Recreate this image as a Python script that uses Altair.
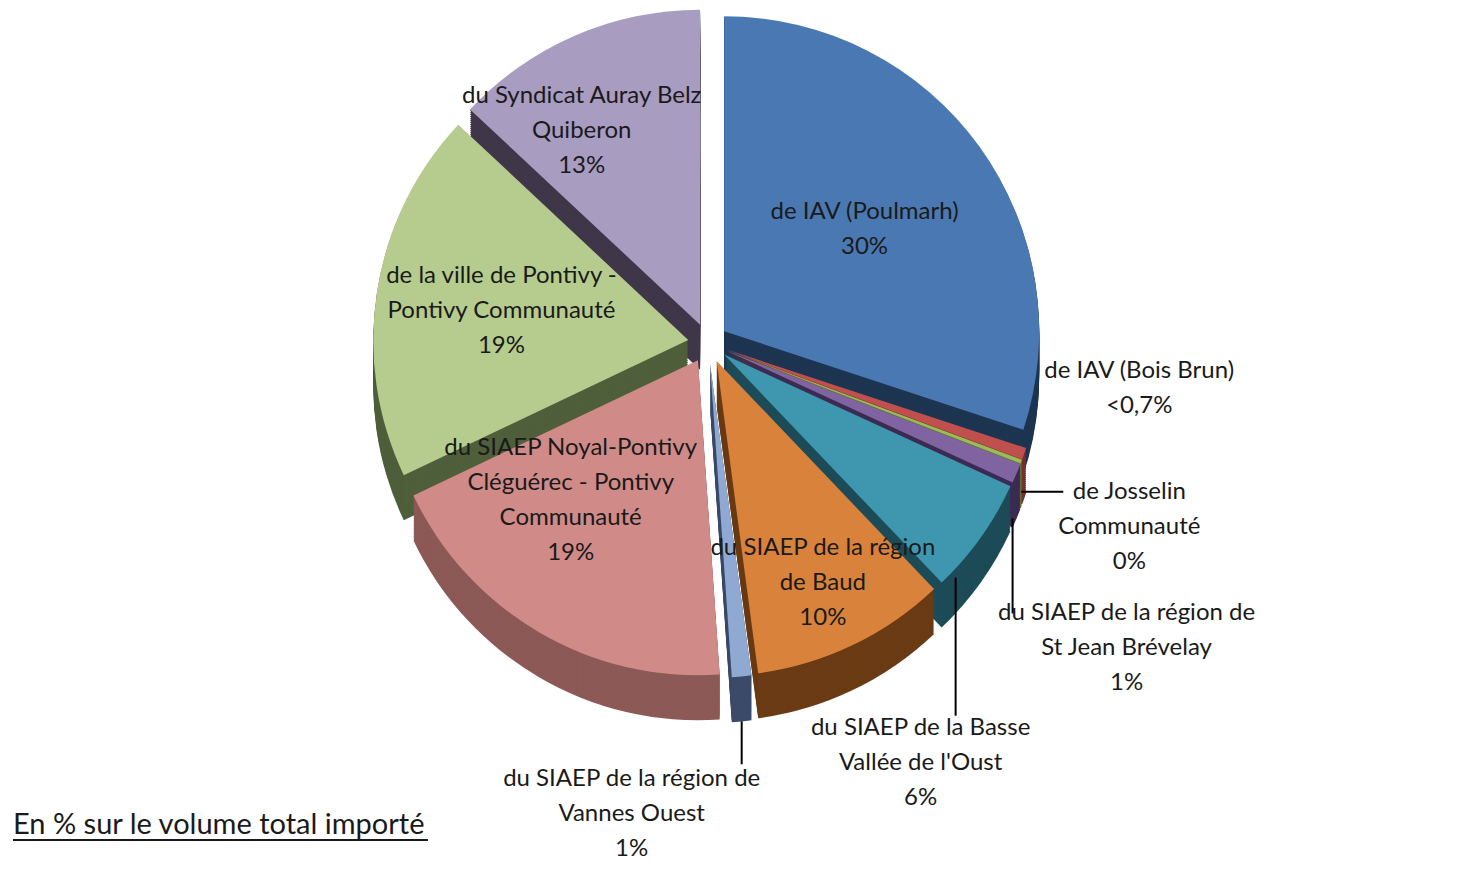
import altair as alt
import pandas as pd

# ---- data ----
categories = [
    "de IAV (Poulmarh)",
    "de IAV (Bois Brun)",
    "de Josselin Communauté",
    "du SIAEP de la région de St Jean Brévelay",
    "du SIAEP de la Basse Vallée de l'Oust",
    "du SIAEP de la région de Baud",
    "du SIAEP de la région de Vannes Ouest",
    "du SIAEP Noyal-Pontivy Cléguérec - Pontivy Communauté",
    "de la ville de Pontivy - Pontivy Communauté",
    "du Syndicat Auray Belz Quiberon",
]
values = [30, 0.6, 0.2, 1, 6, 10, 1, 19, 19, 13]
labels = [
    "de IAV (Poulmarh)\n30%",
    "de IAV (Bois Brun)\n<0,7%",
    "de Josselin\nCommunauté\n0%",
    "du SIAEP de la région de\nSt Jean Brévelay\n1%",
    "du SIAEP de la Basse\nVallée de l'Oust\n6%",
    "du SIAEP de la région\nde Baud\n10%",
    "du SIAEP de la région de\nVannes Ouest\n1%",
    "du SIAEP Noyal-Pontivy\nCléguérec - Pontivy\nCommunauté\n19%",
    "de la ville de Pontivy -\nPontivy Communauté\n19%",
    "du Syndicat Auray Belz\nQuiberon\n13%",
]
top_colors = ["#4A78B2", "#C0504D", "#9BBB59", "#8064A2", "#3F97AF",
              "#D9823C", "#8FA9D2", "#D08B89", "#B6CC8E", "#A99CC1"]
side_colors = ["#1E3551", "#76302E", "#5F7530", "#3B2C52", "#1D4C58",
               "#6A3B14", "#3B4A68", "#8C5957", "#4F5F3B", "#3F3749"]

df = pd.DataFrame({
    "cat": categories, "value": values, "label": labels,
    "top": top_colors, "side": side_colors, "order": list(range(len(values))),
})

# ---- layout (styling) ----
W, H = 1443, 859
CX, CY, R, E, DEPTH = 700, 335, 315, 20, 45
FONT = "Lato"
FS = 24
LH = 35

base = (
    alt.Chart(df)
    .transform_joinaggregate(total="sum(value)")
    .transform_window(cum="sum(value)", sort=[alt.SortField("order")], frame=[None, 0])
    .transform_calculate(a1="datum.cum / datum.total * 2 * PI")
    .transform_calculate(a0="(datum.cum - datum.value) / datum.total * 2 * PI")
    .transform_calculate(mid="(datum.a0 + datum.a1) / 2")
    .transform_calculate(px=f"{CX} + {E} * sin(datum.mid)",
                         py=f"{CY} - {E} * cos(datum.mid)")
    .transform_calculate(ex=f"datum.px + {R} * sin(datum.mid)",
                         ey=f"datum.py - {R} * cos(datum.mid)")
    .transform_calculate(nl="length(split(datum.label, '\\n'))")
)

xenc = alt.X("px:Q", scale=None, axis=None)
yenc = alt.Y("py:Q", scale=None, axis=None)

layers = []
# extruded sides
for d in range(DEPTH, 0, -2):
    layers.append(
        base.mark_arc(radius=R, yOffset=d, stroke=None).encode(
            x=xenc, y=yenc,
            theta=alt.Theta("a0:Q", scale=None), theta2=alt.Theta2("a1:Q"),
            fill=alt.Fill("side:N", scale=None),
        )
    )
# top faces
layers.append(
    base.mark_arc(radius=R, stroke=None).encode(
        x=xenc, y=yenc,
        theta=alt.Theta("a0:Q", scale=None), theta2=alt.Theta2("a1:Q"),
        fill=alt.Fill("top:N", scale=None),
    )
)


def text_layer(src):
    return (
        src.transform_calculate(ly2=f"datum.ly - (datum.nl - 1) * {LH} / 2")
        .mark_text(font=FONT, fontSize=FS, lineBreak="\n", lineHeight=LH,
                   align="center", baseline="middle", color="#1a1a1a")
        .encode(x=alt.X("lx:Q", scale=None, axis=None),
                y=alt.Y("ly2:Q", scale=None, axis=None), text="label:N")
    )


# inside labels: (angle shift in degrees, radius fraction)
inside = {
    categories[0]: (0, 0.55),
    categories[5]: (0, 0.78),
    categories[7]: (12, 0.60),
    categories[8]: (0, 0.60),
    categories[9]: (-8, 0.72),
}
for cat, (da, rf) in inside.items():
    src = base.transform_filter(alt.datum.cat == cat).transform_calculate(
        la=f"datum.mid + {da} * PI / 180")
    src = src.transform_calculate(lx=f"datum.px + {rf * R} * sin(datum.la)",
                                  ly=f"datum.py - {rf * R} * cos(datum.la)")
    layers.append(text_layer(src))

# outside labels: text offset and leader segment relative to the slice's outer edge
outside = {
    categories[1]: dict(tx=115, ty=-65, lead=None),
    categories[2]: dict(tx=108, ty=65, lead=(0, 30, 42, 30)),
    categories[3]: dict(tx=110, ty=175, lead=(-4, 45, -4, 140)),
    categories[4]: dict(tx=-60, ty=225, lead=(-25, 40, -25, 178)),
    categories[6]: dict(tx=-110, ty=138, lead=(0, 45, 0, 88)),
}
for cat, o in outside.items():
    sub = base.transform_filter(alt.datum.cat == cat)
    layers.append(text_layer(
        sub.transform_calculate(lx=f"datum.ex + {o['tx']}", ly=f"datum.ey + {o['ty']}")))
    if o["lead"]:
        x0, y0, x1, y1 = o["lead"]
        layers.append(
            sub.transform_calculate(
                rx0=f"datum.ex + {x0}", ry0=f"datum.ey + {y0}",
                rx1=f"datum.ex + {x1}", ry1=f"datum.ey + {y1}")
            .mark_rule(color="#000000", strokeWidth=2)
            .encode(x=alt.X("rx0:Q", scale=None, axis=None),
                    y=alt.Y("ry0:Q", scale=None, axis=None),
                    x2="rx1:Q", y2="ry1:Q")
        )

# footnote
note = pd.DataFrame({"t": ["En % sur le volume total importé"]})
layers.append(
    alt.Chart(note).mark_text(font=FONT, fontSize=29, align="left", baseline="alphabetic",
                              color="#1a1a1a")
    .encode(x=alt.value(5), y=alt.value(826), text="t:N")
)
layers.append(
    alt.Chart(note).mark_rule(color="#1a1a1a", strokeWidth=2)
    .encode(x=alt.value(5), x2=alt.value(420), y=alt.value(832))
)

chart = (
    alt.layer(*layers)
    .properties(width=W, height=H, padding=0, autosize="none")
    .configure_view(stroke=None)
)
chart.save("out.html", embed_options={"renderer": "svg", "actions": False})
